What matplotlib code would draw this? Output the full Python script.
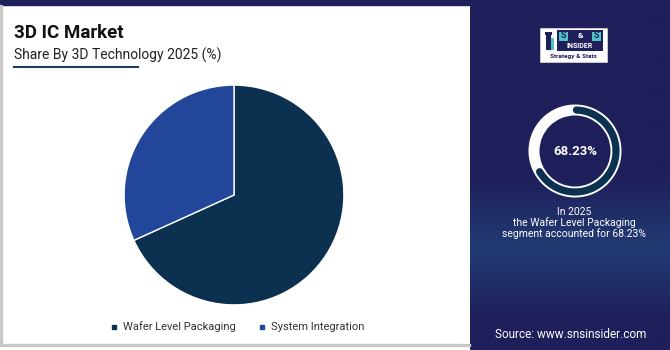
import matplotlib.pyplot as plt
import numpy as np
from matplotlib.patches import Rectangle, Wedge

segments = ["Wafer Level Packaging", "System Integration"]
shares = [68.23, 31.77]
seg_colors = ["#0b3050", "#22479a"]

W, H = 670, 350
plt.rcParams['font.family'] = ['Roboto', 'DejaVu Sans']

fig = plt.figure(figsize=(6.7, 3.5), dpi=100)
fig.patch.set_facecolor("white")


def box(x, y, w, h):
    # pixel box (top-left origin) -> figure fraction
    return [x / W, (H - y - h) / H, w / W, h / H]


def fx(x):
    return x / W


def fy(y):
    return 1 - y / H


# background layer, pixel coordinates
bg = fig.add_axes([0, 0, 1, 1])
bg.set_xlim(0, W)
bg.set_ylim(H, 0)
bg.axis("off")
grad = np.concatenate([np.zeros(60), np.linspace(0, 1, 25), np.linspace(1, 0, 25), np.zeros(10)])
cmap = plt.matplotlib.colors.LinearSegmentedColormap.from_list("p", ["#1e1f5b", "#223a72"])
bg.imshow(grad[:, None], extent=[470, W, H, 0], aspect="auto", cmap=cmap, zorder=0)
bg.add_patch(Rectangle((0, 0), W, 5, color="#1e1f5b", zorder=1))
bg.add_patch(Rectangle((0, 5), 2, 340, color="#c8c8c8", zorder=1))
bg.add_patch(Rectangle((0, 344), 470, 2, color="#c8c8c8", zorder=1))
bg.plot([14, 138], [67, 67], color="#1f3b5c", lw=1.5, zorder=2)

# titles
fig.text(fx(14), fy(33), "3D IC Market", fontsize=13.5, fontweight="bold", color="#111111", va="center")
fig.text(fx(14), fy(55), "Share By 3D Technology 2025 (%)", fontsize=10, color="#222222", va="center")

# main pie
ax = fig.add_axes(box(123, 84, 222, 222))
ax.pie(shares, colors=seg_colors, startangle=90, counterclock=False,
       wedgeprops=dict(edgecolor="white", linewidth=1))
ax.set_xlim(-1.01, 1.01)
ax.set_ylim(-1.01, 1.01)
ax.set_aspect("equal")

# legend
handles = [plt.Line2D([], [], marker="s", ls="", color=c, markersize=3.5) for c in seg_colors]
fig.legend(handles, segments, loc="center", bbox_to_anchor=(fx(236), fy(327)), ncol=2,
           frameon=False, fontsize=8, handletextpad=0.2, handlelength=1.2, columnspacing=1.8,
           labelcolor="#333333")

# logo
bg.add_patch(Rectangle((540, 28), 67, 34, facecolor="white", edgecolor="#dddddd", lw=0.5, zorder=3))
bg.add_patch(Rectangle((545, 32), 7, 3, facecolor="#1e1f5b", zorder=4))
bg.add_patch(Rectangle((546, 35), 5, 15, facecolor="#1e1f5b", zorder=4))
bg.add_patch(Rectangle((551, 38), 3, 12, facecolor="#4fc3c0", zorder=4))
bg.add_patch(Rectangle((557, 30), 46, 21, facecolor="#1e1f5b", zorder=4))
bg.add_patch(Rectangle((559, 31.5), 9, 9, facecolor="#4fc3c0", zorder=5))
bg.add_patch(Rectangle((592, 31.5), 9, 9, facecolor="#4fc3c0", zorder=5))
bg.text(563.5, 36, "S", color="#1e1f5b", fontsize=6.5, fontweight="bold", ha="center", va="center", zorder=6)
bg.text(580, 36, "&", color="white", fontsize=6, fontweight="bold", ha="center", va="center", zorder=6)
bg.text(596.5, 36, "S", color="#1e1f5b", fontsize=6.5, fontweight="bold", ha="center", va="center", zorder=6)
bg.text(580, 46, "INSIDER", color="white", fontsize=5, fontweight="bold", ha="center", va="center", zorder=6)
bg.text(573, 56.5, "Strategy & Stats", color="#1e1f5b", fontsize=4.6, fontweight="bold", ha="center", va="center", zorder=5)

# donut: white ring with dark arc for the share
cx, cy, r_out, ring = 575, 151, 46.5, 11
bg.add_patch(Wedge((cx, cy), r_out, 0, 360, width=ring, facecolor="white", zorder=3))
start = 88
theta = np.radians(np.linspace(start, start - 360 * shares[0] / 100 + 8, 200))
rm = r_out - ring / 2
bg.plot(cx + rm * np.cos(theta), cy - rm * np.sin(theta), color="#0b3050", lw=5.2,
        solid_capstyle="round", zorder=4)
fig.text(fx(cx), fy(cy), f"{shares[0]:.2f}%", fontsize=9.5, fontweight="bold", color="white",
         ha="center", va="center")

fig.text(fx(574), fy(223), f"In 2025\nthe Wafer Level Packaging\nsegment accounted for {shares[0]:.2f}%",
         fontsize=7.5, color="white", ha="center", va="center", linespacing=1.05)
fig.text(fx(571), fy(334), "Source: www.snsinsider.com", fontsize=8.5, color="white", ha="center", va="center")

fig.savefig("out.png", dpi=100, facecolor=fig.get_facecolor())
